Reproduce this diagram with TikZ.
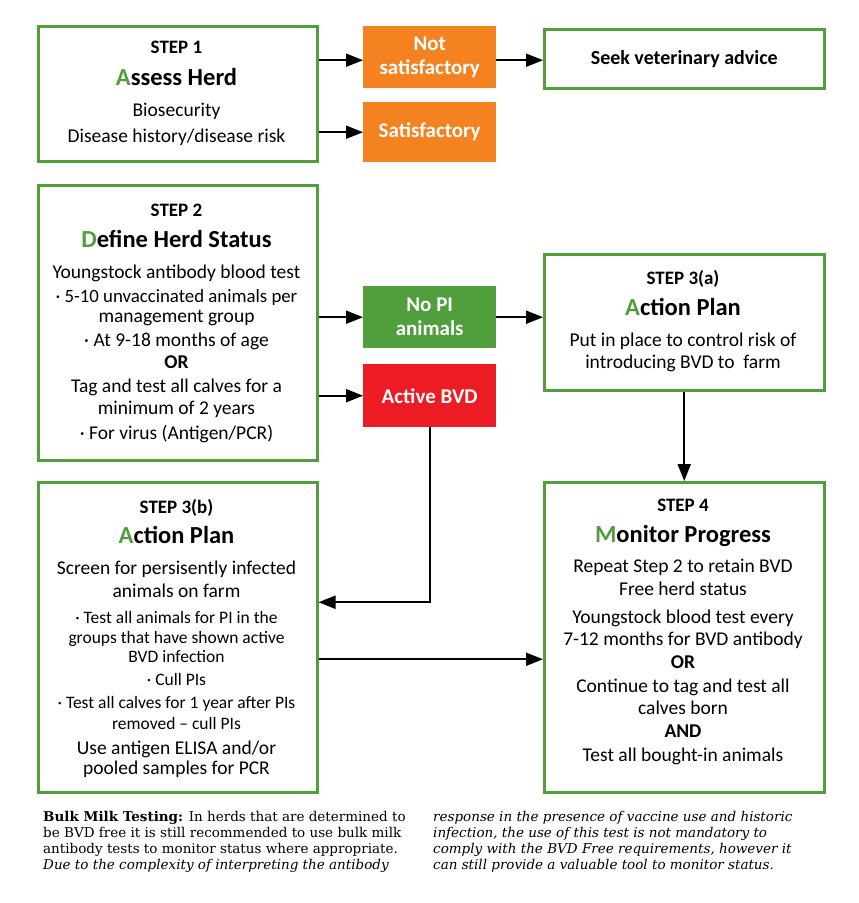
\documentclass[tikz,border=0pt]{standalone}
\usepackage{fontspec}
\setmainfont{Carlito}
\newfontfamily\footfont{DejaVu Serif}
\usetikzlibrary{arrows.meta}
\definecolor{bvdgreen}{RGB}{80,158,60}
\definecolor{bvdorange}{RGB}{245,130,32}
\definecolor{bvdred}{RGB}{237,28,36}
\newcommand\firstg[1]{{\color{bvdgreen}#1}}
\tikzset{
 stepbox/.style={draw=bvdgreen, line width=2.5pt, rectangle, anchor=north west, inner sep=0pt},
 midbox/.style={rectangle, anchor=north west, inner sep=0pt, minimum width=133pt, text=white, align=center, font=\bfseries\fontsize{21}{24}\selectfont},
 arr/.style={line width=2pt, -{Triangle[length=17pt,width=13pt]}},
 steplbl/.style={anchor=base, inner sep=0pt, font=\bfseries\fontsize{19}{22}\selectfont},
 headlbl/.style={anchor=base, inner sep=0pt, font=\bfseries\fontsize{24.5}{28}\selectfont},
 bodylbl/.style={anchor=base, inner sep=0pt, font=\fontsize{19.5}{22}\selectfont},
 bulletlbl/.style={anchor=base, inner sep=0pt, font=\fontsize{17.5}{20}\selectfont},
 footlbl/.style={anchor=base west, inner sep=0pt, font=\footfont\fontsize{13.5}{16}\selectfont},
}
\begin{document}
\begin{tikzpicture}[x=1pt,y=-1pt]
\useasboundingbox (0,0) rectangle (859,903);

% boxes
\node[stepbox, minimum width=279pt, minimum height=135pt] (s1) at (37,25) {};
\node[stepbox, minimum width=279pt, minimum height=275pt] (s2) at (37,184) {};
\node[stepbox, minimum width=279pt, minimum height=310pt] (s3b) at (37,481) {};
\node[stepbox, minimum width=280pt, minimum height=59pt, font=\bfseries\fontsize{20}{24}\selectfont] (seek) at (543,28) {Seek veterinary advice};
\node[stepbox, minimum width=280pt, minimum height=136pt] (s3a) at (543,253) {};
\node[stepbox, minimum width=280pt, minimum height=310pt] (s4) at (543,481) {};

\node[midbox, fill=bvdorange, minimum height=62pt] (ns) at (363,26) {Not\\satisfactory};
\node[midbox, fill=bvdorange, minimum height=60pt] (sat) at (363,102) {Satisfactory};
\node[midbox, fill=bvdgreen, minimum height=62pt] (nopi) at (363,286) {No PI\\animals};
\node[midbox, fill=bvdred, minimum height=63pt] (act) at (363,364) {Active BVD};

% step 1 text
\node[steplbl] (s1a) at (176.5,53) {STEP 1};
\node[headlbl] (s1b) at (176.5,85) {\firstg{A}ssess Herd};
\node[bodylbl] (s1c) at (176.5,116) {Biosecurity};
\node[bodylbl] (s1d) at (176.5,142) {Disease history/disease risk};

% step 2 text
\node[steplbl] (s2a) at (176.5,216) {STEP 2};
\node[headlbl] (s2b) at (176.5,247) {\firstg{D}efine Herd Status};
\node[bodylbl] (s2c) at (176.5,278) {Youngstock antibody blood test};
\node[bodylbl, font=\fontsize{18.8}{22}\selectfont] (s2d) at (176.5,302) {· 5-10 unvaccinated animals per};
\node[bodylbl] (s2e) at (176.5,322) {management group};
\node[bodylbl] (s2f) at (176.5,346) {· At 9-18 months of age};
\node[bodylbl, font=\bfseries\fontsize{19.5}{22}\selectfont] (s2g) at (176.5,368) {OR};
\node[bodylbl] (s2h) at (176.5,392) {Tag and test all calves for a};
\node[bodylbl] (s2i) at (176.5,414) {minimum of 2 years};
\node[bodylbl] (s2j) at (176.5,439) {· For virus (Antigen/PCR)};

% step 3a text
\node[steplbl] (s3aa) at (683,284) {STEP 3(a)};
\node[headlbl] (s3ab) at (683,315) {\firstg{A}ction Plan};
\node[bodylbl] (s3ac) at (683,346) {Put in place to control risk of};
\node[bodylbl] (s3ad) at (683,368) {introducing BVD to\ \ farm};

% step 3b text
\node[steplbl] (s3ba) at (176.5,513) {STEP 3(b)};
\node[headlbl] (s3bb) at (176.5,543) {\firstg{A}ction Plan};
\node[bodylbl] (s3bc) at (176.5,574) {Screen for persisently infected};
\node[bodylbl] (s3bd) at (176.5,597) {animals on farm};
\node[bulletlbl] (s3be) at (176.5,623) {· Test all animals for PI in the};
\node[bulletlbl] (s3bf) at (176.5,643) {groups that have shown active};
\node[bulletlbl] (s3bg) at (176.5,662) {BVD infection};
\node[bulletlbl] (s3bh) at (176.5,685) {· Cull PIs};
\node[bulletlbl] (s3bi) at (176.5,708) {· Test all calves for 1 year after PIs};
\node[bulletlbl] (s3bj) at (176.5,729) {removed – cull PIs};
\node[bodylbl] (s3bk) at (176.5,754) {Use antigen ELISA and/or};
\node[bodylbl] (s3bl) at (176.5,774) {pooled samples for PCR};

% step 4 text
\node[steplbl] (s4a) at (683,511) {STEP 4};
\node[headlbl] (s4b) at (683,542) {\firstg{M}onitor Progress};
\node[bodylbl] (s4c) at (683,572) {Repeat Step 2 to retain BVD};
\node[bodylbl] (s4d) at (683,595) {Free herd status};
\node[bodylbl] (s4e) at (683,623) {Youngstock blood test every};
\node[bodylbl] (s4f) at (683,645) {7-12 months for BVD antibody};
\node[bodylbl, font=\bfseries\fontsize{19.5}{22}\selectfont] (s4g) at (683,668) {OR};
\node[bodylbl] (s4h) at (683,692) {Continue to tag and test all};
\node[bodylbl] (s4i) at (683,714) {calves born};
\node[bodylbl, font=\bfseries\fontsize{19.5}{22}\selectfont] (s4j) at (683,737) {AND};
\node[bodylbl] (s4k) at (683,761) {Test all bought-in animals};

% connectors
\draw[arr] ([yshift=-3pt]s1.east |- ns.west) -- ([yshift=-3pt]ns.west);
\draw[arr] ([yshift=-3pt]ns.east) -- ([yshift=-3pt]seek.west |- ns.east);
\draw[arr] (s1.east |- sat.west) -- (sat.west);
\draw[arr] (s2.east |- nopi.west) -- (nopi.west);
\draw[arr] (nopi.east) -- (s3a.west |- nopi.east);
\draw[arr] (s2.east |- act.west) -- (act.west);
\draw[arr] (act.south) |- ([yshift=35pt]s3b.east);
\draw[arr] (s3a.south) -- (s4.north);
\draw[arr] ([yshift=-22pt]s3b.east) -- ([yshift=-22pt]s4.west);

% footer
\node[footlbl] (f1) at (43,821) {\textbf{Bulk Milk Testing:} In herds that are determined to};
\node[footlbl] (f2) at (43,837) {be BVD free it is still recommended to use bulk milk};
\node[footlbl] (f3) at (43,853) {antibody tests to monitor status where appropriate.};
\node[footlbl] (f4) at (43,869) {\itshape Due to the complexity of interpreting the antibody};
\node[footlbl] (f5) at (433,821) {\itshape response in the presence of vaccine use and historic};
\node[footlbl] (f6) at (433,837) {\itshape infection, the use of this test is not mandatory to};
\node[footlbl] (f7) at (433,853) {\itshape comply with the BVD Free requirements, however it};
\node[footlbl] (f8) at (433,869) {\itshape can still provide a valuable tool to monitor status.};
\end{tikzpicture}
\end{document}
